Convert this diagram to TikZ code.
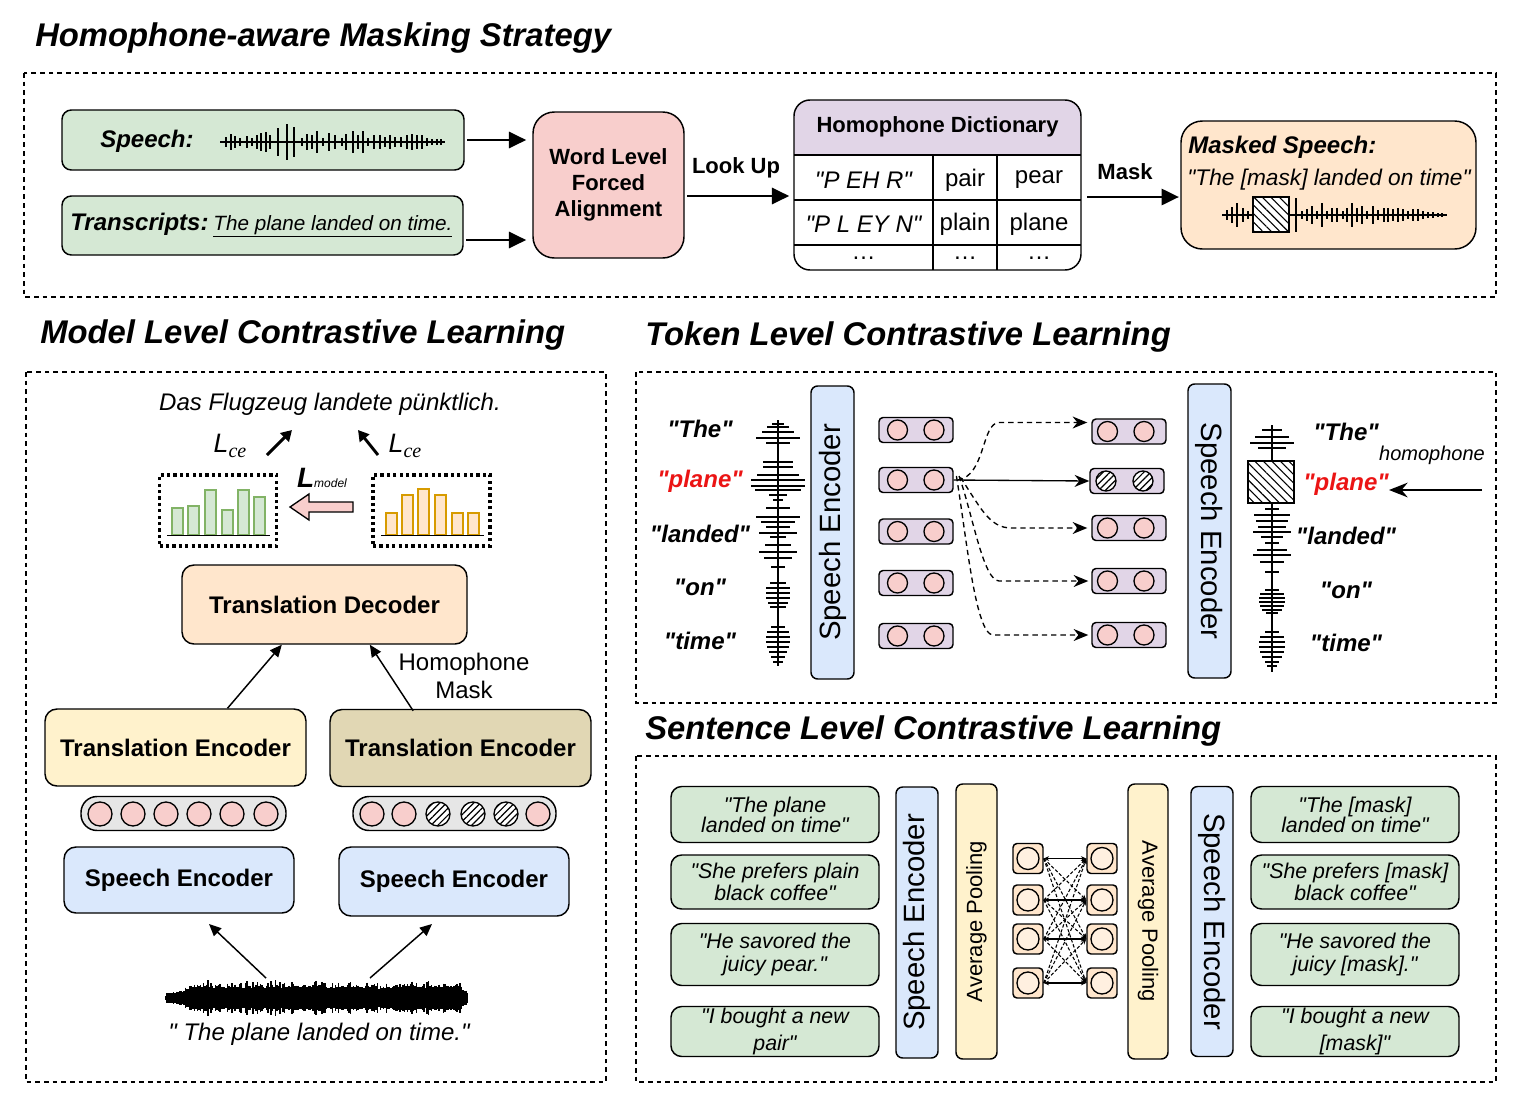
\documentclass[tikz,border=0pt]{standalone}
\usepackage{fontspec}
\setmainfont{Liberation Sans}[Ligatures=TeXOff]
\newfontfamily\serifit{Liberation Serif}[Ligatures=TeXOff]
\usepackage{tikz}
\usetikzlibrary{arrows.meta,patterns.meta,calc,positioning}

\definecolor{grnfill}{RGB}{213,232,212}
\definecolor{pinkfill}{RGB}{248,206,204}
\definecolor{purpfill}{RGB}{225,213,231}
\definecolor{peachfill}{RGB}{255,230,204}
\definecolor{bluefill}{RGB}{218,232,252}
\definecolor{yelfill}{RGB}{255,242,204}
\definecolor{tanfill}{RGB}{225,215,180}
\definecolor{pillfill}{RGB}{230,230,230}
\definecolor{bargreen}{RGB}{130,179,102}
\definecolor{barorange}{RGB}{215,155,0}
\definecolor{wordred}{RGB}{235,20,20}

% waveform ticks (position/half length)
\newcommand\speechticks{226/5,231/8,235/6,240/4,247/6,252/4,257/7,261/9,266/10,270/7,278/14,287/18,294/15,302/4,307/8,312/7,317/11,323/4,329/9,335/7,342/4,346/8,353/11,358/7,363/11,368/4,374/7,380/7,385/5,390/7,395/5,401/5,407/7,412/8,417/7,422/7,427/4,432/3,437/3,441/3}
\newcommand\maskticks{1227/5,1232/8,1237/12,1243/7,1248/4,1296/17,1302/4,1307/6,1312/9,1317/4,1322/12,1327/4,1332/7,1337/7,1343/4,1347/7,1352/12,1357/7,1362/9,1367/4,1373/9,1378/5,1384/7,1388/7,1393/6,1398/7,1403/6,1408/4,1413/6,1418/6,1423/4,1428/3,1433/3,1438/2,1442/2}
\newcommand\tokwaveL{424/6,427/11,432/16,438/22,443/12,462/15,467/15,475/21,480/27,486/27,490/23,495/9,500/5,508/12,517/22,522/17,527/12,533/19,537/8,545/13,552/19,558/14,567/7,583/8,588/12,593/12,598/12,603/10,607/8,627/7,632/11,637/12,642/12,647/11,652/9,657/7,662/5}
\newcommand\tokwaveR{430/10,437/17,443/22,448/14,509/7,515/18,521/16,527/14,532/19,537/11,543/7,550/15,555/19,562/12,572/7,590/7,594/12,598/13,602/13,606/12,610/10,613/6,632/7,637/12,642/13,647/13,652/12,657/10,662/7,666/5}

\tikzset{
  frame/.style={draw, line width=1pt, dash pattern=on 3.5pt off 3pt},
  title/.style={anchor=west, inner sep=0pt, font=\fontsize{24.6}{28}\selectfont\bfseries\itshape},
  box/.style={draw, line width=1.1pt, rounded corners=8pt, align=center, inner sep=0pt},
  boxsize/.style 2 args={minimum width=#1*0.75pt, minimum height=#2*0.75pt},
  lbl/.style={font=\fontsize{18}{22}\selectfont\bfseries},
  smlbl/.style={font=\fontsize{16.5}{19.5}\selectfont\bfseries},
  cell/.style={font=\fontsize{18}{22}\selectfont, inner sep=0pt},
  word/.style={font=\fontsize{18}{22}\selectfont\bfseries\itshape, inner sep=0pt},
  sent/.style={font=\fontsize{16}{#1}\selectfont\itshape, align=center},
  vbox/.style={box, rounded corners=5pt},
  wave/.style={line width=1.1pt},
  hatch/.style={draw, line width=1pt, fill=white, postaction={pattern={Lines[angle=-45,distance=4.5pt,line width=0.8pt]}}},
  hatchcirc/.style={draw, line width=1pt, fill=white, postaction={pattern={Lines[angle=45,distance=3.6pt,line width=0.9pt]}}},
  tokcirc/.style={draw, line width=1pt, fill=pinkfill},
  tokbox/.style={draw, line width=1.1pt, rounded corners=3pt, fill=purpfill, boxsize={74}{25}, inner sep=0pt},
  sqbox/.style={draw, line width=1.1pt, rounded corners=3pt, fill=peachfill, boxsize={30}{30}, inner sep=0pt},
  bigarrow/.style={-{Triangle[length=13pt,width=12pt]}, line width=2.2pt},
  thinarrow/.style={-{Triangle[length=9pt,width=8pt]}, line width=1.1pt},
  cearrow/.style={-{Triangle[length=8pt,width=9pt]}, line width=2.2pt},
  tokarrow/.style={-{Stealth[length=11pt,width=9pt]}, line width=1pt},
  dasharrow/.style={tokarrow, dash pattern=on 4pt off 3pt},
  pairarrow/.style={{Stealth[length=4pt,width=3.5pt]}-{Stealth[length=4pt,width=3.5pt]}, line width=1pt},
  crossarrow/.style={-{Stealth[length=4pt,width=3.5pt]}, line width=0.8pt, dash pattern=on 2.5pt off 1.5pt},
  histbox/.style={draw, line width=2.4pt, dash pattern=on 2.4pt off 2.4pt, inner sep=0pt},
}

\begin{document}
\begin{tikzpicture}[x=0.75pt,y=0.75pt,yscale=-1,xscale=1]
\useasboundingbox (0,0) rectangle (1521,1107);

%%%% Homophone-aware masking strategy
\node[title] (titmask) at (35,38) {Homophone-aware Masking Strategy};
\draw[frame] (24,73) rectangle (1496,297);

% speech input
\node[box, rounded corners=7pt, fill=grnfill, boxsize={402}{60}] (speech) at (263,140) {};
\node[anchor=west, inner sep=0pt, font=\fontsize{18}{22}\selectfont\bfseries\itshape] (speechlbl) at (100,141) {Speech:};
\draw[wave] (220,142) -- (445,142);
\foreach \x/\h in \speechticks \draw[wave] (\x,{142-\h}) -- (\x,{142+\h});

% transcripts input
\node[box, rounded corners=7pt, fill=grnfill, boxsize={401}{59}] (trans) at (262.5,225.5) {};
\node[anchor=west, inner sep=0pt] (translbl) at (70,225) {{\fontsize{18}{22}\selectfont\bfseries\itshape Transcripts:} {\fontsize{15.5}{18}\selectfont\itshape\underline{The plane landed on time.}}};

% forced alignment
\node[box, rounded corners=16pt, fill=pinkfill, boxsize={151}{146}, smlbl] (fa) at (608.5,185) {Word Level\\Forced\\Alignment};
\draw[bigarrow, shorten <=2pt, shorten >=4.5pt] (speech.east) -- (speech.east -| fa.west);
\coordinate (transout) at ($(trans.east)+(0,14.5)$);
\draw[bigarrow, shorten <=2pt, shorten >=4.5pt] (transout) -- (transout -| fa.west);

% homophone dictionary
\begin{scope}
\clip[rounded corners=12pt] (794,100) rectangle (1081,270);
\fill[purpfill] (794,100) rectangle (1081,155);
\end{scope}
\node[box, rounded corners=12pt, boxsize={287}{170}] (dict) at (937.5,185) {};
\node[smlbl] (dicthead) at (937.5,127) {Homophone Dictionary};
\foreach \y in {155,200,245} \draw[line width=1.1pt] (794,\y) -- (1081,\y);
\foreach \x in {933,997} \draw[line width=1.1pt] (\x,155) -- (\x,270);
\node[cell, font=\fontsize{18}{22}\selectfont\itshape] (ph1) at (863.5,180) {"P EH R"};
\node[cell] (hw11) at (965,180) {pair};
\node[cell] (hw12) at (1039,180) {pear};
\node[cell, font=\fontsize{18}{22}\selectfont\itshape] (ph2) at (863.5,224) {"P L EY N"};
\node[cell] (hw21) at (965,224) {plain};
\node[cell] (hw22) at (1039,224) {plane};
\node[cell] (ph3) at (863.5,258) {\ldots};
\node[cell] (hw31) at (965,258) {\ldots};
\node[cell] (hw32) at (1039,258) {\ldots};

\draw[bigarrow, shorten <=2pt, shorten >=3pt] ($(fa.east)+(0,11)$) -- ($(dict.west)+(0,11)$);
\node[smlbl] (lookup) at (736,168) {Look Up};

% masked speech
\node[box, rounded corners=16pt, fill=peachfill, boxsize={295}{128}] (masked) at (1328.5,185) {};
\draw[bigarrow, shorten <=4pt, shorten >=1pt] ($(dict.east)+(0,12)$) -- ($(masked.west)+(0,12)$);
\node[smlbl] (masklbl) at (1125,172) {Mask};
\node[anchor=west, inner sep=0pt, font=\fontsize{18}{22}\selectfont\bfseries\itshape] (maskedlbl) at (1188,147) {Masked Speech:};
\node[font=\fontsize{17}{20}\selectfont\itshape, inner sep=0pt] (maskedtxt) at (1329,180) {"The [mask] landed on time"};
\draw[wave] (1222,215) -- (1447,215);
\foreach \x/\h in \maskticks \draw[wave] (\x,{215-\h}) -- (\x,{215+\h});
\draw[hatch] (1253,197) rectangle (1289,232);

%%%% Model level
\node[title] (titmodel) at (40,335) {Model Level Contrastive Learning};
\draw[frame] (26,372) rectangle (606,1082);
\node[font=\fontsize{18}{22}\selectfont\itshape] (german) at (330,404) {Das Flugzeug landete pünktlich.};

% output distributions
\node[histbox, boxsize={117}{71}] (histA) at (218,510.5) {};
\foreach \x/\t in {172/508,188/506,205/490,222/510,238/490,254/497}
  \draw[bargreen, fill=grnfill, line width=1.4pt] (\x,\t) rectangle ({\x+11},535);
\draw[line width=1.3pt] (167,535.5) -- (270,535.5);
\node[histbox, boxsize={117}{71}] (histB) at (431.5,510.5) {};
\foreach \x/\t in {386/513,402/495,418/489,435/495,452/513,468/513}
  \draw[barorange, fill=peachfill, line width=1.4pt] (\x,\t) rectangle ({\x+11},535);
\draw[line width=1.3pt] (381,535.5) -- (484,535.5);

% hollow arrow between the two distributions
\draw[line width=1pt, fill=pinkfill, line join=miter] (290,507) -- (309,494) -- (309,502) -- (353,502) -- (353,512) -- (309,512) -- (309,520) -- cycle;
\node[inner sep=0pt] (lmodel) at (322,478) {{\fontsize{21}{24}\selectfont\bfseries\itshape L}{\fontsize{9}{10}\selectfont\itshape model}};

\node[inner sep=0pt] (lceA) at (230,446) {{\fontsize{20}{24}\selectfont\itshape L}\raisebox{-4pt}{\serifit\fontsize{15}{18}\selectfont\itshape ce}};
\node[inner sep=0pt] (lceB) at (405,446) {{\fontsize{20}{24}\selectfont\itshape L}\raisebox{-4pt}{\serifit\fontsize{15}{18}\selectfont\itshape ce}};
\coordinate (ceA0) at (267,455);
\coordinate (ceA1) at (292,430);
\coordinate (ceB0) at (378,455);
\coordinate (ceB1) at (358,430);
\draw[cearrow] (ceA0) -- (ceA1);
\draw[cearrow] (ceB0) -- (ceB1);

% decoder / encoders
\node[box, rounded corners=9pt, fill=peachfill, boxsize={285}{79}, lbl] (dec) at (324.5,604.5) {Translation Decoder};
\node[box, rounded corners=9pt, fill=yelfill, boxsize={261}{77}, lbl] (teA) at (175.5,747.5) {Translation Encoder};
\node[box, rounded corners=9pt, fill=tanfill, boxsize={261}{77}, lbl] (teB) at (460.5,748) {Translation Encoder};
\node[fill=white, align=center, font=\fontsize{18}{21}\selectfont, inner sep=1pt] (hmask) at (464,676) {Homophone\\Mask};
\draw[thinarrow] ([xshift=39pt]teA.north) -- ([xshift=-32pt]dec.south);
\draw[thinarrow] ([xshift=-35.5pt,yshift=1.5pt]teB.north) -- ([xshift=34pt]dec.south);

% token sequences
\node[box, rounded corners=12pt, fill=pillfill, boxsize={205}{34}] (pillA) at (183.5,813.5) {};
\foreach \x in {100,133,166,199,232,266} \draw[tokcirc] (\x,814) circle[radius=12];
\node[box, rounded corners=12pt, fill=pillfill, boxsize={203}{34}] (pillB) at (454.5,813.5) {};
\foreach \x in {372,404,538} \draw[tokcirc] (\x,814) circle[radius=12];
\foreach \x in {438,473,506} \draw[hatchcirc] (\x,814) circle[radius=12];

\node[box, rounded corners=9pt, fill=bluefill, boxsize={230}{66}, lbl] (seA) at (179,880) {Speech Encoder};
\node[box, rounded corners=9pt, fill=bluefill, boxsize={230}{69}, lbl] (seB) at (454,881.5) {Speech Encoder};

% input audio
\pgfmathsetseed{42}
\foreach \i in {0,...,200} {
  \pgfmathsetmacro\wx{166+1.5*\i}
  \pgfmathsetmacro\wh{min(1,(\i+4)/22,(206-\i)/10)*(9+8*rnd*rnd+3*rnd)}
  \draw[line width=0.9pt] (\wx,{998-\wh}) -- (\wx,{998+\wh});
}
\fill (166,993) rectangle (468,1003);
\coordinate (wavL) at (266,978);
\coordinate (wavR) at (370,978);
\coordinate (seAin) at (209,924);
\coordinate (seBin) at (432,924);
\draw[thinarrow] (wavL) -- (seAin);
\draw[thinarrow] (wavR) -- (seBin);
\node[font=\fontsize{18}{22}\selectfont\itshape] (utter) at (319,1034) {" The plane landed on time."};

%%%% Token level
\node[title] (tittoken) at (645,337) {Token Level Contrastive Learning};
\draw[frame] (636,372) rectangle (1496,703);

\foreach \i/\y/\w in {1/429/The,3/534/landed,4/587/on,5/641/time}
  \node[word] (wl\i) at (700,\y) {"\w"};
\node[word, text=wordred] (wl2) at (700,481) {"plane"};
\draw[wave] (778,420) -- (778,666);
\foreach \y/\w in \tokwaveL \draw[wave] ({778-\w},\y) -- ({778+\w},\y);

\node[vbox, fill=bluefill, rotate=90, boxsize={293}{43}, font=\fontsize{22}{26}\selectfont] (tseA) at (832.5,532.5) {Speech Encoder};

\foreach \i/\y in {1/430,2/480,3/531.5,4/583,5/636} {
  \node[tokbox] (tokL\i) at (916,\y) {};
  \draw[tokcirc] (897.5,\y) circle[radius=10];
  \draw[tokcirc] (934,\y) circle[radius=10];
}
\foreach \i/\y in {1/431.5,3/528,4/581,5/635} {
  \node[tokbox] (tokR\i) at (1129,\y) {};
  \draw[tokcirc] (1107.5,\y) circle[radius=10];
  \draw[tokcirc] (1144,\y) circle[radius=10];
}
\node[tokbox] (tokR2) at (1127,481) {};
\draw[hatchcirc] (1106,481) circle[radius=10];
\draw[hatchcirc] (1143,481) circle[radius=10];

\draw[tokarrow] (tokL2.east) -- (tokR2.west);
\draw[dasharrow] ([xshift=3pt]tokL2.east) .. controls +(28,-4) and +(-18,0) .. ($(tokR1.west)+(-92,-9)$) -- ($(tokR1.west)+(-4,-9)$);
\draw[dasharrow] ([xshift=5pt,yshift=-2pt]tokL2.east) .. controls +(20,30) and +(-22,0) .. ($(tokR3.west)+(-80,0)$) -- ($(tokR3.west)+(-4,0)$);
\draw[dasharrow] ([xshift=4pt,yshift=-3pt]tokL2.east) .. controls +(14,40) and +(-16,0) .. ($(tokR4.west)+(-92,0)$) -- ($(tokR4.west)+(-3,0)$);
\draw[dasharrow] ([xshift=2pt,yshift=-3pt]tokL2.east) .. controls +(10,60) and +(-18,0) .. ($(tokR5.west)+(-98,0)$) -- ($(tokR5.west)+(-3,0)$);

\node[vbox, fill=bluefill, rotate=-90, boxsize={294}{43}, font=\fontsize{22}{26}\selectfont] (tseB) at (1209.5,531) {Speech Encoder};

\draw[wave] (1272,425) -- (1272,672);
\foreach \y/\w in \tokwaveR \draw[wave] ({1272-\w},\y) -- ({1272+\w},\y);
\draw[hatch] (1248,461) rectangle (1294,503);

\foreach \i/\y/\w in {1/432/The,3/536/landed,4/590/on,5/643/time}
  \node[word] (wr\i) at (1346,\y) {"\w"};
\node[word, text=wordred] (wr2) at (1346,484) {"plane"};
\node[font=\fontsize{15}{18}\selectfont\itshape, inner sep=0pt] (homlbl) at (1432,455) {homophone};
\coordinate (homsrc) at (1482,490);
\draw[tokarrow, -{Stealth[length=14pt,width=11pt]}] (homsrc) -- (homsrc -| wr2.east);

%%%% Sentence level
\node[title] (titsent) at (645,731) {Sentence Level Contrastive Learning};
\draw[frame] (636,756) rectangle (1496,1082);

\node[box, fill=grnfill, boxsize={208}{56}, sent=15pt] (slA) at (775,814.5) {"The plane\\landed on time"};
\node[box, fill=grnfill, boxsize={208}{54}, sent=16.5pt] (slB) at (775,882) {"She prefers plain\\black coffee"};
\node[box, fill=grnfill, boxsize={208}{62}, sent=17pt] (slC) at (775,954.5) {"He savored the\\juicy pear."};
\node[box, fill=grnfill, boxsize={208}{50}, sent=20pt] (slD) at (775,1031.5) {"I bought a new\\pair"};

\node[vbox, fill=bluefill, rotate=90, boxsize={271}{42}, font=\fontsize{22}{26}\selectfont] (sseA) at (917,922.5) {Speech Encoder};
\node[vbox, fill=yelfill, rotate=90, boxsize={275}{41}, font=\fontsize{16.5}{20}\selectfont] (apA) at (976.5,921.5) {Average Pooling};
\node[vbox, fill=yelfill, rotate=-90, boxsize={275}{40}, font=\fontsize{16.5}{20}\selectfont] (apB) at (1148,921.5) {Average Pooling};
\node[vbox, fill=bluefill, rotate=-90, boxsize={270}{42}, font=\fontsize{22}{26}\selectfont] (sseB) at (1212,921.5) {Speech Encoder};

\foreach \i/\y in {1/858.5,2/900,3/939,4/983} {
  \node[sqbox] (sqL\i) at (1028,\y) {};
  \draw[line width=1pt, fill=peachfill!60!white] (1028,\y) circle[radius=11];
  \node[sqbox] (sqR\i) at (1102,\y) {};
  \draw[line width=1pt, fill=peachfill!60!white] (1102,\y) circle[radius=11];
}
\foreach \i in {1,...,4}
  \foreach \j in {1,...,4} {
    \ifnum\i=\j\relax
      \draw[pairarrow] (sqL\i.east) -- (sqR\j.west);
    \else
      \draw[crossarrow] (sqL\i.east) -- (sqR\j.west);
    \fi
  }

\node[box, fill=grnfill, boxsize={208}{56}, sent=15pt] (srA) at (1355,814.5) {"The [mask]\\landed on time"};
\node[box, fill=grnfill, boxsize={208}{54}, sent=16.5pt] (srB) at (1355,882) {"She prefers [mask]\\black coffee"};
\node[box, fill=grnfill, boxsize={208}{62}, sent=17pt] (srC) at (1355,954.5) {"He savored the\\juicy [mask]."};
\node[box, fill=grnfill, boxsize={208}{50}, sent=20pt] (srD) at (1355,1031.5) {"I bought a new\\{[mask]"}};

\end{tikzpicture}
\end{document}
